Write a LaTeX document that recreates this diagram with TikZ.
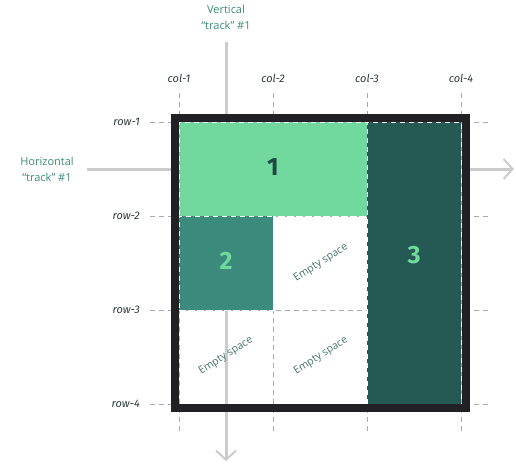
\documentclass[tikz,border=0pt]{standalone}
\usepackage{fontspec}
\setmainfont{Fira Sans}
\newfontfamily\handfont{Open Sans}
\usetikzlibrary{arrows.meta}
\definecolor{itemA}{HTML}{71D99E}
\definecolor{itemB}{HTML}{3A8B7B}
\definecolor{itemC}{HTML}{245A53}
\definecolor{frame}{HTML}{212125}
\definecolor{track}{HTML}{CCCCCC}
\definecolor{numdark}{HTML}{1F4A44}
\definecolor{lbl}{HTML}{2F3A3A}
\definecolor{hand}{HTML}{3A8B7B}
\definecolor{gridc}{HTML}{AAAAAA}
\tikzset{
  itembox/.style={inner sep=0pt, outer sep=0pt, draw=white, line width=0.8pt, dash pattern=on 5pt off 4pt},
  num/.style={font=\bfseries\fontsize{25}{27}\selectfont},
  gridlbl/.style={font=\itshape\fontsize{11}{13}\selectfont, text=lbl, inner sep=1pt},
  handlbl/.style={font=\handfont\fontsize{11}{16}\selectfont, text=hand, align=center},
  emptylbl/.style={font=\handfont\fontsize{10.5}{12}\selectfont, text=itemC!85, rotate=33},
  trackline/.style={draw=track, line width=3pt, -{Straight Barb[length=9pt, width=20pt, line width=2pt]}},
  gridline/.style={draw=gridc, line width=0.8pt, dash pattern=on 5pt off 4pt},
}
\begin{document}
\begin{tikzpicture}[x=1pt, y=-1pt]
\useasboundingbox (0,0) rectangle (516,464);
% tracks
\coordinate (vtop) at (226,42);
\coordinate (vbot) at (226,461);
\coordinate (hstart) at (87,169);
\coordinate (hend) at (514,169);
\draw[trackline] (vtop) -- (vbot);
\draw[trackline] (hstart) -- (hend);
% grid lines
\foreach \x/\n in {179/1,273/2,367/3,461/4}{
  \coordinate (ct\n) at (\x,93);
  \coordinate (cb\n) at (\x,433);
  \draw[gridline] (ct\n) -- (cb\n);
  \node[gridlbl] (col\n) at (\x,78) {col-\n};
}
\foreach \y/\n in {122/1,216/2,310/3,404/4}{
  \coordinate (rl\n) at (150,\y);
  \coordinate (rr\n) at (490,\y);
  \draw[gridline] (rl\n) -- (rr\n);
  \node[gridlbl, anchor=east] (row\n) at (141,\y) {row-\n};
}
% items
\node[itembox, fill=itemA, minimum width=188pt, minimum height=94pt] (item1) at (273,169) {};
\node[itembox, fill=itemB, minimum width=94pt, minimum height=94pt] (item2) at (226,263) {};
\node[itembox, fill=itemC, minimum width=94pt, minimum height=282pt] (item3) at (414,263) {};
% frame
\node[draw=frame, line width=8pt, minimum width=291pt, minimum height=290pt, inner sep=0pt, outer sep=0pt] (frame) at (320.5,263) {};
% numbers
\node[num, text=numdark] (n1) at (273,167) {1};
\node[num, text=itemA] (n2) at (226,261) {2};
\node[num, text=itemA] (n3) at (414,255) {3};
% empty space labels
\node[emptylbl] (e1) at (321,263) {Empty space};
\node[emptylbl] (e2) at (226,356) {Empty space};
\node[emptylbl] (e3) at (321,356) {Empty space};
% track labels
\node[handlbl] (vt) at (226,17) {Vertical\\“track” \#1};
\node[handlbl] (ht) at (47,169) {Horizontal\\“track” \#1};
\end{tikzpicture}
\end{document}
